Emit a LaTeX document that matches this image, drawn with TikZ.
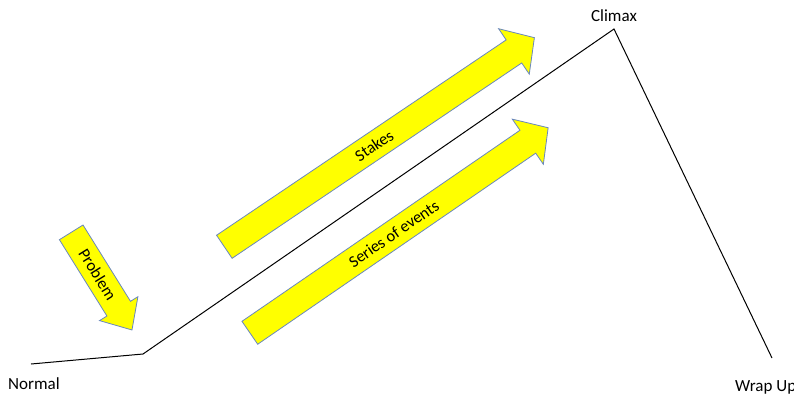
\documentclass[tikz,border=0pt]{standalone}
\usepackage{fontspec}
\setmainfont{Carlito}
\usetikzlibrary{shapes.arrows}
\begin{document}
\begin{tikzpicture}[x=1pt,y=-1pt]
\definecolor{arrowyellow}{RGB}{255,255,0};
\definecolor{arrowedge}{RGB}{105,135,190};
\useasboundingbox (0,0) rectangle (794,399);
\tikzstyle{tag}=[inner sep=0pt, font=\fontsize{17}{20}\selectfont];
\tikzstyle{beat}=[single arrow, draw=arrowedge, line width=0.8pt, fill=arrowyellow, inner xsep=2pt, inner ysep=8pt, text height=11pt, text depth=0pt, single arrow head extend=13.5pt, single arrow tip angle=96, anchor=tail, font=\fontsize{16.5}{20}\selectfont];
% story line
\coordinate (start) at (31,364);
\coordinate (bend) at (143,354);
\coordinate (peak) at (614,29);
\coordinate (finish) at (772,358);
\draw[line width=1pt] (start) -- (bend) -- (peak) -- (finish);
\node[tag, anchor=base west] (normal) at (8,389) {Normal};
\node[tag, anchor=base] (climax) at (614,21) {Climax};
\node[tag, anchor=base west] (wrapup) at (735,391) {Wrap Up};
% arrows
\node[beat, rotate=34.0, minimum height=374pt] (stakes) at (224,247) {Stakes};
\node[beat, rotate=34.5, minimum height=362pt] (events) at (249.5,333) {Series of events};
\node[beat, rotate=-58.1, minimum height=115pt, single arrow head extend=8.7pt, single arrow tip angle=84] (problem) at (71,232) {Problem};
\end{tikzpicture}
\end{document}
